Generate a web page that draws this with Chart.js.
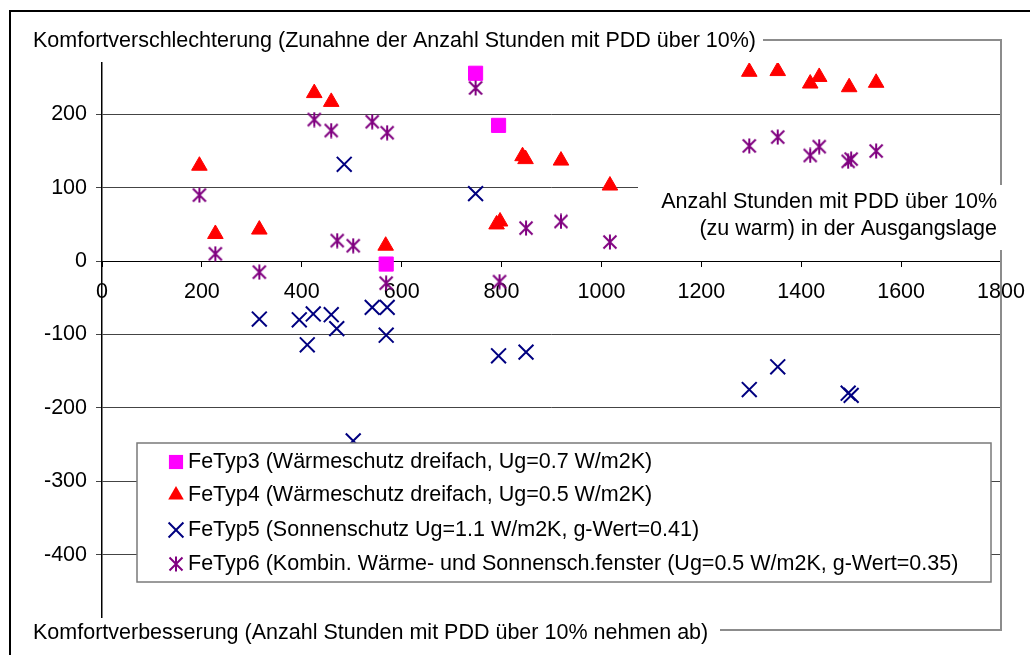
<!DOCTYPE html>
<html>
<head>
<meta charset="utf-8">
<script src="https://cdn.jsdelivr.net/npm/chart.js@4.4.1/dist/chart.umd.min.js"></script>
<style>
  html, body { margin: 0; padding: 0; background: #fff; }
  #wrap { width: 1030px; height: 655px; }
</style>
</head>
<body>
<div id="wrap"><canvas id="pddChart" width="1030" height="655"></canvas></div>
<script>
// Hours with PDD > 10% in the base case (x) vs. change in those hours (y)
const xTicks = [0, 200, 400, 600, 800, 1000, 1200, 1400, 1600, 1800];
const yTicks = [200, 100, 0, -100, -200, -300, -400];

const seriesNames = [
  'FeTyp3 (Wärmeschutz dreifach, Ug=0.7 W/m2K)',
  'FeTyp4 (Wärmeschutz dreifach, Ug=0.5 W/m2K)',
  'FeTyp5 (Sonnenschutz Ug=1.1 W/m2K, g-Wert=0.41)',
  'FeTyp6 (Kombin. Wärme- und Sonnensch.fenster (Ug=0.5 W/m2K, g-Wert=0.35)'
];

const feTyp3X = [748, 794, 569];
const feTyp3Y = [256, 185, -4];

const feTyp4X = [195, 227, 315, 425, 459, 568, 790, 797, 842, 848, 919, 1017, 1296, 1353, 1418, 1436, 1496, 1550];
const feTyp4Y = [130, 37, 43, 229, 217, 21, 50, 54, 143, 139, 137, 103, 258, 259, 242, 251, 237, 243];

const feTyp5X = [485, 748, 315, 395, 423, 411, 459, 470, 541, 571, 569, 503, 794, 849, 1296, 1353, 1494, 1500];
const feTyp5Y = [132, 92, -79, -80, -72, -114, -73, -92, -63, -63, -101, -245, -129, -124, -175, -144, -180, -183];

const feTyp6X = [195, 227, 315, 425, 459, 471, 503, 541, 571, 569, 748, 796, 849, 919, 1017, 1296, 1353, 1418, 1436, 1494, 1500, 1550];
const feTyp6Y = [90, 10, -15, 193, 178, 28, 21, 190, 175, -30, 236, -28, 45, 54, 26, 157, 169, 144, 156, 136, 139, 150];

const FONT = '"Liberation Sans", Arial, sans-serif';
const FONT_SIZE = 21.5;

function toPoints(xs, ys) {
  return xs.map((x, i) => ({ x: x, y: ys[i] }));
}

// Excel-like asterisk marker: an X with a vertical bar
function makeAsterisk(color) {
  const c = document.createElement('canvas');
  c.width = 16;
  c.height = 16;
  const g = c.getContext('2d');
  g.strokeStyle = color;
  g.lineWidth = 2;
  g.beginPath();
  g.moveTo(1.5, 1.5); g.lineTo(14.5, 14.5);
  g.moveTo(14.5, 1.5); g.lineTo(1.5, 14.5);
  g.moveTo(8, 0.5); g.lineTo(8, 15.5);
  g.stroke();
  return c;
}
const asterisk = makeAsterisk('#800080');

const datasets = [
  { label: seriesNames[0], data: toPoints(feTyp3X, feTyp3Y), pointStyle: 'rect', pointRadius: 10,
    backgroundColor: '#ff00ff', borderColor: '#ff00ff', borderWidth: 1, order: 3 },
  { label: seriesNames[1], data: toPoints(feTyp4X, feTyp4Y), pointStyle: 'triangle', pointRadius: 9,
    backgroundColor: '#ff0000', borderColor: '#ff0000', borderWidth: 1, order: 2 },
  { label: seriesNames[2], data: toPoints(feTyp5X, feTyp5Y), pointStyle: 'crossRot', pointRadius: 10.5,
    backgroundColor: '#000080', borderColor: '#000080', borderWidth: 2, order: 1 },
  { label: seriesNames[3], data: toPoints(feTyp6X, feTyp6Y), pointStyle: asterisk, pointRadius: 8,
    backgroundColor: '#800080', borderColor: '#800080', borderWidth: 2, order: 0 }
];

// small marker painter for the legend box
function drawMarker(ctx, ds, x, y) {
  ctx.save();
  ctx.fillStyle = ds.backgroundColor;
  ctx.strokeStyle = ds.borderColor;
  ctx.lineWidth = ds.borderWidth;
  const r = ds.pointRadius;
  if (ds.pointStyle === 'rect') {
    const s = Math.SQRT1_2 * r;
    ctx.fillRect(x - s, y - s, 2 * s, 2 * s);
  } else if (ds.pointStyle === 'triangle') {
    ctx.beginPath();
    ctx.moveTo(x, y - r);
    ctx.lineTo(x + r * Math.sin(2 * Math.PI / 3), y - r * Math.cos(2 * Math.PI / 3));
    ctx.lineTo(x + r * Math.sin(4 * Math.PI / 3), y - r * Math.cos(4 * Math.PI / 3));
    ctx.closePath();
    ctx.fill();
  } else if (ds.pointStyle === 'crossRot') {
    const s = Math.SQRT1_2 * r;
    ctx.beginPath();
    ctx.moveTo(x - s, y - s); ctx.lineTo(x + s, y + s);
    ctx.moveTo(x + s, y - s); ctx.lineTo(x - s, y + s);
    ctx.stroke();
  } else {
    ctx.drawImage(ds.pointStyle, x - 8, y - 8);
  }
  ctx.restore();
}

const decor = {
  id: 'decor',
  beforeDatasetsDraw(chart) {
    const ctx = chart.ctx;
    ctx.save();
    // note on the x axis meaning, sits over the grid
    ctx.fillStyle = '#fff';
    ctx.fillRect(638, 185, 365, 65);
    ctx.fillStyle = '#000';
    ctx.font = FONT_SIZE + 'px ' + FONT;
    ctx.textAlign = 'right';
    ctx.textBaseline = 'middle';
    ctx.fillText('Anzahl Stunden mit PDD über 10%', 997, 202);
    ctx.fillText('(zu warm) in der Ausgangslage', 997, 229);
    ctx.restore();
  },
  afterDraw(chart) {
    const ctx = chart.ctx;
    const area = chart.chartArea;
    ctx.save();

    // outer frame
    ctx.fillStyle = '#000';
    ctx.fillRect(9, 10, 1021, 2);
    ctx.fillRect(9, 10, 2, 645);

    // plot area frame, broken where the labels sit
    ctx.strokeStyle = '#8c8c8c';
    ctx.lineWidth = 2;
    ctx.beginPath();
    ctx.moveTo(763, 40); ctx.lineTo(area.right, 40); ctx.lineTo(area.right, 185);
    ctx.moveTo(area.right, 250); ctx.lineTo(area.right, 630); ctx.lineTo(720, 630);
    ctx.stroke();

    // axis captions
    ctx.fillStyle = '#000';
    ctx.font = FONT_SIZE + 'px ' + FONT;
    ctx.textAlign = 'left';
    ctx.textBaseline = 'middle';
    ctx.fillText('Komfortverschlechterung (Zunahne der Anzahl Stunden mit PDD über 10%)', 33, 41);
    ctx.fillText('Komfortverbesserung (Anzahl Stunden mit PDD über 10% nehmen ab)', 33, 633);

    // legend box
    ctx.fillStyle = '#fff';
    ctx.fillRect(137, 443, 854, 139);
    ctx.strokeStyle = '#7a7a7a';
    ctx.lineWidth = 1.5;
    ctx.strokeRect(137, 443, 854, 139);
    const rows = [462, 495, 530, 564];
    chart.data.datasets.forEach((ds, i) => {
      drawMarker(ctx, ds, 176, rows[i]);
      ctx.fillStyle = '#000';
      ctx.fillText(ds.label, 188, rows[i]);
    });
    ctx.restore();
  }
};

new Chart(document.getElementById('pddChart'), {
  type: 'scatter',
  data: { datasets: datasets },
  plugins: [decor],
  options: {
    responsive: false,
    animation: false,
    events: [],
    layout: { padding: { left: 0, top: 63, right: 29, bottom: 38 } },
    plugins: {
      legend: { display: false },
      tooltip: { enabled: false }
    },
    scales: {
      x: {
        type: 'linear',
        position: { y: 0 },
        min: 0,
        max: 1800,
        afterBuildTicks: scale => { scale.ticks = xTicks.map(v => ({ value: v })); },
        afterFit: scale => { scale.paddingLeft = 0; scale.paddingRight = 0; },
        grid: { drawOnChartArea: false, drawTicks: true, tickLength: 5, color: '#000' },
        border: { display: true, color: '#000', width: 1 },
        ticks: { color: '#000', padding: 13, maxRotation: 0, autoSkip: false,
                 callback: v => String(v),
                 font: { family: FONT, size: FONT_SIZE } }
      },
      y: {
        type: 'linear',
        position: 'left',
        min: -485,
        max: 270,
        afterBuildTicks: scale => { scale.ticks = yTicks.map(v => ({ value: v })); },
        afterFit: scale => { scale.width = 102; },
        grid: { color: '#444', lineWidth: 1, drawTicks: true, tickLength: 6 },
        border: { display: true, color: '#000', width: 1.5 },
        ticks: { color: '#000', padding: 9, autoSkip: false,
                 callback: v => String(v),
                 font: { family: FONT, size: FONT_SIZE } }
      }
    }
  }
});
</script>
</body>
</html>
